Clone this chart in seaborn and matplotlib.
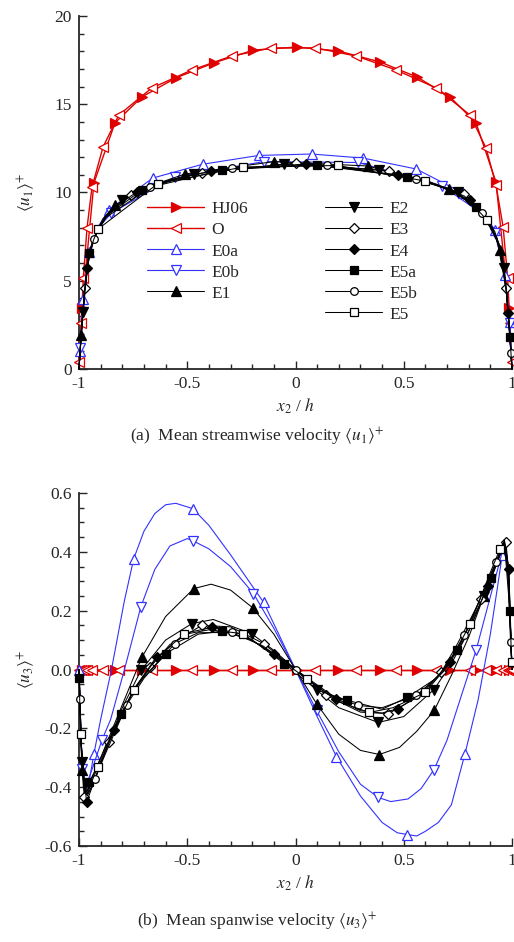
# ==========================================
# MEAN VELOCITY PROFILES (two panels)
# ==========================================

import matplotlib
matplotlib.use("Agg")
import matplotlib.pyplot as plt
from matplotlib.lines import Line2D
from matplotlib.ticker import MultipleLocator, FormatStrFormatter
import seaborn as sns

# ==========================================
# DATA
# ==========================================

NAMES = ["HJ06", "O", "E0a", "E0b", "E1", "E2", "E3", "E4", "E5a", "E5b", "E5"]

# ---------- panel (a): <u1>+ ----------
HJ06_A_X = [-1.0, -0.986, -0.931, -0.834, -0.71, -0.553, -0.378, -0.194, 0.005, 0.198,
            0.392, 0.562, 0.714, 0.834, 0.926, 0.986, 1.0]
HJ06_A_Y = [0.0, 3.46, 10.54, 13.94, 15.41, 16.49, 17.34, 18.07, 18.24, 18.02,
            17.39, 16.54, 15.41, 13.94, 10.59, 3.46, 0.0]
HJ06_A_MK = [1, 2, 3, 4, 5, 6, 7, 8, 9, 10, 11, 12, 13, 14, 15]

O_A_X = [-1.0, -0.99, -0.98, -0.963, -0.94, -0.889, -0.816, -0.664, -0.479, -0.295, -0.111,
         0.092, 0.281, 0.465, 0.65, 0.806, 0.88, 0.926, 0.959, 0.98, 0.99, 1.0]
O_A_Y = [0.4, 2.6, 5.16, 7.99, 10.3, 12.58, 14.39, 15.92, 16.94, 17.73, 18.19,
         18.19, 17.73, 16.94, 15.92, 14.39, 12.52, 10.42, 8.05, 5.16, 2.6, 0.4]
O_A_MK = [0, 1, 2, 3, 4, 5, 6, 7, 8, 9, 10, 11, 12, 13, 14, 15, 16, 17, 18, 19, 20, 21]

E0A_A_X = [-1.0, -0.995, -0.982, -0.954, -0.91, -0.862, -0.659, -0.429, -0.17, 0.074,
           0.313, 0.558, 0.774, 0.87, 0.92, 0.967, 0.99, 1.0]
E0A_A_Y = [0.0, 1.0, 3.97, 6.63, 8.1, 9.0, 10.82, 11.6, 12.1, 12.18,
           11.95, 11.33, 9.97, 8.8, 7.9, 5.3, 2.66, 0.0]
E0A_A_MK = [1, 2, 3, 5, 6, 7, 8, 9, 10, 11, 12, 14, 15, 16]

E0B_A_X = [-1.0, -0.995, -0.975, -0.95, -0.91, -0.85, -0.558, -0.147, 0.29, 0.677,
           0.85, 0.92, 0.96, 0.99, 1.0]
E0B_A_Y = [0.0, 1.2, 4.3, 6.7, 8.0, 8.84, 10.88, 11.75, 11.7, 10.37,
           8.9, 7.7, 5.8, 2.6, 0.0]
E0B_A_MK = [1, 5, 6, 7, 8, 9, 11, 13]

E1_A_X = [-1.0, -0.991, -0.975, -0.955, -0.93, -0.89, -0.834, -0.7, -0.51, -0.1,
          0.336, 0.71, 0.85, 0.91, 0.945, 0.975, 0.99, 1.0]
E1_A_Y = [0.0, 1.93, 4.3, 6.5, 7.4, 8.5, 9.29, 10.25, 11.05, 11.75,
          11.5, 10.2, 9.1, 8.0, 6.74, 4.3, 2.0, 0.0]
E1_A_MK = [1, 6, 8, 9, 10, 11, 14]

E2_A_X = [-1.0, -0.99, -0.982, -0.96, -0.93, -0.88, -0.8, -0.65, -0.47, -0.055,
          0.387, 0.6, 0.751, 0.87, 0.93, 0.963, 0.985, 1.0]
E2_A_Y = [0.0, 1.9, 3.23, 5.9, 7.4, 8.6, 9.55, 10.45, 11.05, 11.6,
          11.3, 10.7, 10.0, 8.6, 7.4, 5.72, 3.0, 0.0]
E2_A_MK = [2, 6, 8, 9, 10, 12, 15]

E3_A_X = [-1.0, -0.99, -0.972, -0.95, -0.92, -0.87, -0.76, -0.6, -0.43, 0.0,
          0.433, 0.62, 0.779, 0.88, 0.93, 0.972, 0.99, 1.0]
E3_A_Y = [0.0, 1.9, 4.59, 6.7, 7.7, 8.7, 9.85, 10.65, 11.1, 11.67,
          11.2, 10.55, 9.9, 8.5, 7.4, 4.59, 1.9, 0.0]
E3_A_MK = [2, 6, 8, 9, 10, 12, 15]

E4_A_X = [-1.0, -0.99, -0.963, -0.94, -0.9, -0.85, -0.73, -0.55, -0.39, 0.05,
          0.475, 0.65, 0.806, 0.89, 0.94, 0.965, 0.982, 1.0]
E4_A_Y = [0.0, 1.9, 5.72, 7.1, 8.2, 9.05, 10.05, 10.8, 11.2, 11.62,
          11.0, 10.45, 9.55, 8.3, 7.1, 5.6, 3.17, 0.0]
E4_A_MK = [2, 6, 8, 9, 10, 12, 16]

E5A_A_X = [-1.0, -0.99, -0.975, -0.954, -0.92, -0.87, -0.71, -0.5, -0.34, 0.097,
           0.516, 0.7, 0.834, 0.9, 0.95, 0.975, 0.991, 1.0]
E5A_A_Y = [0.0, 1.9, 4.3, 6.6, 7.7, 8.7, 10.14, 10.95, 11.3, 11.55,
           10.9, 10.25, 9.18, 8.1, 6.7, 4.3, 1.8, 0.0]
E5A_A_MK = [3, 6, 8, 9, 10, 12, 16]

E5B_A_X = [-1.0, -0.99, -0.975, -0.955, -0.931, -0.88, -0.67, -0.294, 0.147, 0.558,
           0.75, 0.862, 0.92, 0.955, 0.975, 0.995, 1.0]
E5B_A_Y = [0.0, 1.9, 4.3, 6.5, 7.37, 8.55, 10.3, 11.4, 11.57, 10.76,
           10.0, 8.84, 7.8, 6.5, 4.3, 0.9, 0.0]
E5B_A_MK = [4, 6, 7, 8, 9, 11, 15]

E5_A_X = [-1.0, -0.99, -0.975, -0.955, -0.93, -0.912, -0.636, -0.244, 0.194, 0.599,
          0.78, 0.885, 0.93, 0.955, 0.975, 0.99, 1.0]
E5_A_Y = [0.0, 1.9, 4.3, 6.5, 7.4, 7.93, 10.5, 11.44, 11.53, 10.65,
          9.8, 8.44, 7.4, 6.5, 4.3, 1.9, 0.0]
E5_A_MK = [5, 6, 7, 8, 9, 11]

# ---------- panel (b): <u3>+ ----------
HJ06_B_X = HJ06_A_X
HJ06_B_Y = [0.0, 0.0, 0.0, 0.0, 0.0, 0.0, 0.0, 0.0, 0.0, 0.0, 0.0, 0.0, 0.0, 0.0, 0.0, 0.0, 0.0]
HJ06_B_MK = HJ06_A_MK

O_B_X = O_A_X
O_B_Y = [0.0, 0.0, 0.0, 0.0, 0.0, 0.0, 0.0, 0.0, 0.0, 0.0, 0.0,
         0.0, 0.0, 0.0, 0.0, 0.0, 0.0, 0.0, 0.0, 0.0, 0.0, 0.0]
O_B_MK = O_A_MK

E0A_B_X = [-1.0, -0.99, -0.975, -0.96, -0.931, -0.9, -0.85, -0.79, -0.747, -0.7, -0.65, -0.6,
           -0.553, -0.475, -0.4, -0.3, -0.147, 0.0, 0.1, 0.189, 0.3, 0.4, 0.47, 0.516,
           0.56, 0.6, 0.66, 0.72, 0.783, 0.843, 0.9, 0.935, 0.955, 0.968, 0.985, 1.0]
E0A_B_Y = [0.0, -0.25, -0.40, -0.41, -0.286, -0.17, 0.0, 0.235, 0.377, 0.47, 0.53, 0.56,
           0.565, 0.547, 0.49, 0.39, 0.228, 0.0, -0.16, -0.296, -0.43, -0.52, -0.555, -0.561,
           -0.566, -0.55, -0.52, -0.46, -0.286, -0.105, 0.12, 0.29, 0.39, 0.43, 0.3, 0.0]
E0A_B_MK = [0, 4, 8, 13, 16, 19, 23, 28, 32]

E0B_B_X = [-1.0, -0.986, -0.97, -0.94, -0.894, -0.854, -0.79, -0.714, -0.65, -0.58, -0.5,
           -0.475, -0.4, -0.3, -0.194, -0.1, 0.0, 0.097, 0.2, 0.3, 0.382, 0.44, 0.52,
           0.58, 0.64, 0.7, 0.77, 0.834, 0.89, 0.93, 0.955, 0.97, 0.985, 1.0]
E0B_B_Y = [0.0, -0.337, -0.40, -0.34, -0.24, -0.17, 0.0, 0.214, 0.34, 0.42, 0.445,
           0.438, 0.41, 0.35, 0.258, 0.14, 0.0, -0.139, -0.28, -0.39, -0.435, -0.449, -0.44,
           -0.405, -0.34, -0.24, -0.08, 0.065, 0.22, 0.33, 0.40, 0.43, 0.3, 0.0]
E0B_B_MK = [1, 4, 7, 11, 14, 17, 20, 24, 27]

E1_B_X = [-1.0, -0.985, -0.97, -0.94, -0.9, -0.85, -0.8, -0.71, -0.6, -0.47, -0.39, -0.3,
          -0.198, -0.1, 0.0, 0.097, 0.2, 0.3, 0.387, 0.48, 0.56, 0.641, 0.72, 0.8,
          0.87, 0.93, 0.965, 0.985, 1.0]
E1_B_Y = [0.0, -0.34, -0.43, -0.37, -0.30, -0.21, -0.12, 0.041, 0.18, 0.275, 0.29, 0.27,
          0.21, 0.12, 0.0, -0.116, -0.22, -0.275, -0.289, -0.265, -0.21, -0.139, -0.02, 0.11,
          0.25, 0.37, 0.44, 0.3, 0.0]
E1_B_MK = [1, 7, 9, 12, 15, 18, 21, 24]

E2_B_X = [-1.0, -0.988, -0.97, -0.94, -0.9, -0.85, -0.8, -0.714, -0.6, -0.479, -0.38,
          -0.203, -0.1, 0.0, 0.097, 0.2, 0.382, 0.5, 0.64, 0.72, 0.8, 0.87, 0.92,
          0.963, 0.98, 0.993, 1.0]
E2_B_Y = [0.0, -0.316, -0.44, -0.40, -0.32, -0.22, -0.13, -0.003, 0.10, 0.156, 0.17,
          0.122, 0.065, 0.0, -0.07, -0.13, -0.18, -0.16, -0.068, 0.02, 0.13, 0.25, 0.34,
          0.44, 0.35, 0.1, 0.0]
E2_B_MK = [1, 7, 9, 11, 14, 16, 18, 21]

E3_B_X = [-1.0, -0.99, -0.975, -0.95, -0.92, -0.862, -0.8, -0.74, -0.673, -0.58, -0.433,
          -0.3, -0.147, 0.0, 0.143, 0.3, 0.429, 0.55, 0.673, 0.75, 0.857, 0.92, 0.972,
          0.985, 0.995, 1.0]
E3_B_Y = [0.0, -0.26, -0.435, -0.41, -0.36, -0.248, -0.145, -0.06, 0.007, 0.085, 0.15,
          0.145, 0.088, 0.0, -0.088, -0.145, -0.15, -0.1, -0.01, 0.09, 0.241, 0.35, 0.432,
          0.33, 0.1, 0.0]
E3_B_MK = [2, 5, 8, 10, 12, 14, 16, 18, 20, 22]

E4_B_X = [-1.0, -0.99, -0.965, -0.94, -0.9, -0.839, -0.75, -0.64, -0.5, -0.387, -0.25,
          -0.101, 0.0, 0.189, 0.3, 0.4, 0.475, 0.6, 0.714, 0.8, 0.889, 0.94, 0.965,
          0.985, 0.995, 1.0]
E4_B_Y = [0.0, -0.25, -0.452, -0.40, -0.32, -0.204, -0.075, 0.041, 0.125, 0.143, 0.12,
          0.054, 0.0, -0.099, -0.14, -0.148, -0.133, -0.07, 0.024, 0.13, 0.285, 0.38, 0.44,
          0.343, 0.12, 0.0]
E4_B_MK = [2, 5, 7, 9, 11, 13, 16, 18, 20, 23]

E5A_B_X = [-1.0, -0.998, -0.99, -0.975, -0.954, -0.93, -0.88, -0.806, -0.75, -0.7, -0.599,
           -0.45, -0.341, -0.2, -0.051, 0.1, 0.24, 0.4, 0.516, 0.65, 0.747, 0.85, 0.903,
           0.95, 0.965, 0.99, 1.0]
E5A_B_Y = [0.0, -0.03, -0.25, -0.42, -0.384, -0.35, -0.27, -0.15, -0.075, -0.025, 0.054,
           0.12, 0.13, 0.1, 0.02, -0.07, -0.105, -0.135, -0.095, -0.03, 0.065, 0.22, 0.31,
           0.41, 0.43, 0.2, 0.0]
E5A_B_MK = [1, 4, 7, 10, 12, 14, 16, 18, 20, 22, 25]

E5B_B_X = [-1.0, -0.996, -0.99, -0.975, -0.95, -0.926, -0.88, -0.779, -0.7, -0.558, -0.45,
           -0.295, -0.15, 0.0, 0.15, 0.29, 0.4, 0.558, 0.68, 0.779, 0.87, 0.926, 0.965,
           0.98, 0.995, 1.0]
E5B_B_Y = [0.0, -0.10, -0.25, -0.42, -0.40, -0.371, -0.29, -0.119, -0.03, 0.088, 0.125,
           0.126, 0.08, 0.0, -0.085, -0.122, -0.13, -0.088, -0.01, 0.116, 0.27, 0.367, 0.43,
           0.36, 0.092, 0.0]
E5B_B_MK = [1, 5, 7, 9, 11, 13, 15, 17, 19, 21, 24]

E5_B_X = [-1.0, -0.993, -0.98, -0.96, -0.935, -0.912, -0.85, -0.747, -0.65, -0.516, -0.4,
          -0.244, -0.1, 0.051, 0.2, 0.341, 0.45, 0.599, 0.7, 0.806, 0.9, 0.945, 0.965,
          0.985, 0.998, 1.0]
E5_B_Y = [0.0, -0.218, -0.40, -0.42, -0.37, -0.33, -0.23, -0.068, 0.035, 0.119, 0.135,
          0.122, 0.05, -0.031, -0.11, -0.146, -0.13, -0.078, 0.01, 0.153, 0.33, 0.411, 0.435,
          0.34, 0.024, 0.0]
E5_B_MK = [1, 5, 7, 9, 11, 13, 15, 17, 19, 21, 24]

PANEL_A = [(HJ06_A_X, HJ06_A_Y, HJ06_A_MK), (O_A_X, O_A_Y, O_A_MK),
           (E0A_A_X, E0A_A_Y, E0A_A_MK), (E0B_A_X, E0B_A_Y, E0B_A_MK),
           (E1_A_X, E1_A_Y, E1_A_MK), (E2_A_X, E2_A_Y, E2_A_MK),
           (E3_A_X, E3_A_Y, E3_A_MK), (E4_A_X, E4_A_Y, E4_A_MK),
           (E5A_A_X, E5A_A_Y, E5A_A_MK), (E5B_A_X, E5B_A_Y, E5B_A_MK),
           (E5_A_X, E5_A_Y, E5_A_MK)]

PANEL_B = [(HJ06_B_X, HJ06_B_Y, HJ06_B_MK), (O_B_X, O_B_Y, O_B_MK),
           (E0A_B_X, E0A_B_Y, E0A_B_MK), (E0B_B_X, E0B_B_Y, E0B_B_MK),
           (E1_B_X, E1_B_Y, E1_B_MK), (E2_B_X, E2_B_Y, E2_B_MK),
           (E3_B_X, E3_B_Y, E3_B_MK), (E4_B_X, E4_B_Y, E4_B_MK),
           (E5A_B_X, E5A_B_Y, E5A_B_MK), (E5B_B_X, E5B_B_Y, E5B_B_MK),
           (E5_B_X, E5_B_Y, E5_B_MK)]

# ==========================================
# STYLE
# ==========================================

RED = "#e00000"
BLUE = "#3232ff"
BLACK = "#000000"

COLORS = [RED, RED, BLUE, BLUE, BLACK, BLACK, BLACK, BLACK, BLACK, BLACK, BLACK]
MARKERS = [">", "<", "^", "v", "^", "v", "D", "D", "s", "o", "s"]
FILLED = [True, False, False, False, True, True, False, True, True, False, False]
MSIZE = {">": 7, "<": 7, "^": 7, "v": 7, "D": 5.5, "s": 5.5, "o": 5.5}
LWIDTH = [1.0, 1.0, 0.8, 0.8, 0.75, 0.75, 0.75, 0.75, 0.75, 0.75, 0.75]

sns.set_style("ticks")
plt.rcParams["font.family"] = ["Liberation Serif", "DejaVu Serif"]
plt.rcParams["mathtext.fontset"] = "stix"
plt.rcParams["axes.unicode_minus"] = False
FS = 12.5


def style_kw(i):
    c = COLORS[i]
    return dict(color=c, lw=LWIDTH[i], marker=MARKERS[i],
                markersize=MSIZE[MARKERS[i]],
                markerfacecolor=c if FILLED[i] else "white",
                markeredgecolor=c, markeredgewidth=0.9)


def draw_panel(ax, panel):
    for i, (x, y, mk) in enumerate(panel):
        sns.lineplot(x=x, y=y, ax=ax, estimator=None, sort=False,
                     markevery=mk, clip_on=False, legend=False,
                     zorder=3 + i, **style_kw(i))


def dress_axes(ax):
    sns.despine(ax=ax)
    ax.set_xlim(-1, 1)
    ax.xaxis.set_major_locator(MultipleLocator(0.5))
    ax.xaxis.set_minor_locator(MultipleLocator(0.1))
    ax.set_xticks([-1, -0.5, 0, 0.5, 1])
    ax.set_xticklabels(["-1", "-0.5", "0", "0.5", "1"])
    ax.tick_params(which="both", direction="in", width=1.0, labelsize=FS)
    ax.tick_params(which="major", length=6, pad=5)
    ax.tick_params(which="minor", length=3.5)
    for s in ["left", "bottom"]:
        ax.spines[s].set_linewidth(1.3)
    ax.set_xlabel(r"$x_2$ / $h$", fontsize=FS)
    ax.xaxis.set_label_coords(0.5, -0.078)


# ==========================================
# FIGURE
# ==========================================

fig = plt.figure(figsize=(5.14, 9.42), dpi=100)
W, H = 514.0, 942.0
ax1 = fig.add_axes([79 / W, 1 - 369 / H, 433 / W, 353 / H])
ax2 = fig.add_axes([79 / W, 1 - 846 / H, 433 / W, 353 / H])

# ---------- panel (a) ----------
draw_panel(ax1, PANEL_A)
dress_axes(ax1)
ax1.set_ylim(0, 20)
ax1.yaxis.set_major_locator(MultipleLocator(5))
ax1.yaxis.set_minor_locator(MultipleLocator(1))
ax1.set_ylabel(r"$\langle u_1\rangle^{+}$", fontsize=FS)
ax1.yaxis.set_label_coords(-0.095, 0.5)

handles = []
for i in range(len(NAMES)):
    handles.append(Line2D([], [], **style_kw(i)))

leg_kw = dict(frameon=False, fontsize=FS, handlelength=3.3, handletextpad=0.4,
              labelspacing=0.28, borderpad=0, borderaxespad=0, numpoints=1,
              loc="upper left")
leg1 = ax1.legend(handles[:5], NAMES[:5], bbox_to_anchor=(0.157, 0.475), **leg_kw)
ax1.add_artist(leg1)
ax1.legend(handles[5:], NAMES[5:], bbox_to_anchor=(0.568, 0.475), **leg_kw)

# ---------- panel (b) ----------
draw_panel(ax2, PANEL_B)
dress_axes(ax2)
ax2.set_ylim(-0.6, 0.6)
ax2.yaxis.set_major_locator(MultipleLocator(0.2))
ax2.yaxis.set_minor_locator(MultipleLocator(0.05))
ax2.yaxis.set_major_formatter(FormatStrFormatter("%.1f"))
ax2.set_ylabel(r"$\langle u_3\rangle^{+}$", fontsize=FS)
ax2.yaxis.set_label_coords(-0.095, 0.5)

# ---------- captions ----------
fig.text(0.5, 1 - 437 / H, r"(a)  Mean streamwise velocity $\langle u_1\rangle^{+}$",
         ha="center", va="center", fontsize=FS)
fig.text(0.5, 1 - 922 / H, r"(b)  Mean spanwise velocity $\langle u_3\rangle^{+}$",
         ha="center", va="center", fontsize=FS)

fig.savefig("out.png", dpi=100)
